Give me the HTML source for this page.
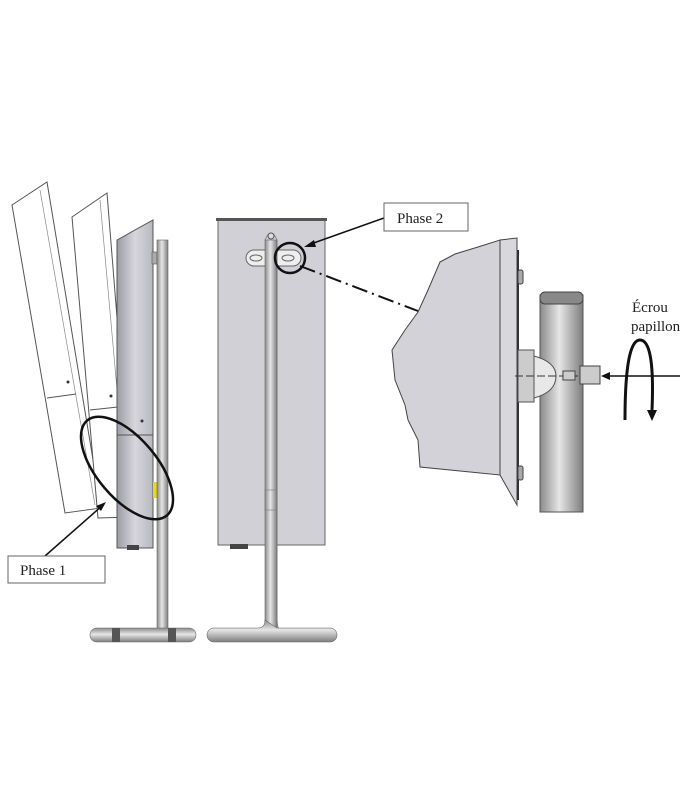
<!DOCTYPE html>
<html><head><meta charset="utf-8"><style>
html,body{margin:0;padding:0;background:#fff;width:700px;height:800px;overflow:hidden}
svg{display:block}
text{font-family:"Liberation Serif",serif;fill:#222}
</style></head><body>
<svg width="700" height="800" viewBox="0 0 700 800" xmlns="http://www.w3.org/2000/svg">
<defs>
<linearGradient id="pole" x1="0" x2="1"><stop offset="0" stop-color="#8a8a8a"/><stop offset=".45" stop-color="#e6e6e6"/><stop offset="1" stop-color="#7d7d7d"/></linearGradient>
<linearGradient id="poleh" x1="0" x2="0" y1="0" y2="1"><stop offset="0" stop-color="#8a8a8a"/><stop offset=".45" stop-color="#e6e6e6"/><stop offset="1" stop-color="#7d7d7d"/></linearGradient>
<linearGradient id="side" x1="0" x2="1"><stop offset="0" stop-color="#9c9ca4"/><stop offset=".5" stop-color="#d6d6dc"/><stop offset="1" stop-color="#b8b8c0"/></linearGradient>
</defs>
<!-- ghost panels -->
<polygon points="12,205 47,182 101,508 65,513" fill="#fff" stroke="#555" stroke-width="1"/>
<line x1="40" y1="190" x2="95" y2="505" stroke="#888" stroke-width="0.7"/>
<line x1="47" y1="398" x2="76" y2="394" stroke="#555"/>
<polygon points="72,217 107,193 133,517 98,518" fill="#fff" stroke="#555" stroke-width="1"/>
<line x1="100" y1="200" x2="128" y2="512" stroke="#888" stroke-width="0.7"/>
<line x1="90" y1="410" x2="118" y2="407" stroke="#555"/>
<circle cx="68" cy="382" r="1.5" fill="#333"/><circle cx="111" cy="396" r="1.5" fill="#333"/>
<!-- side panel -->
<polygon points="117,240 153,220 153,548 117,548" fill="url(#side)" stroke="#555"/>
<line x1="117" y1="435" x2="153" y2="435" stroke="#555"/>
<rect x="152" y="252" width="5" height="12" fill="#aaa" stroke="#555" stroke-width=".6"/>
<rect x="153" y="482" width="5" height="16" fill="#e8d820"/>
<circle cx="142" cy="421" r="1.5" fill="#333"/>
<rect x="127" y="545" width="12" height="5" fill="#444"/>
<!-- left pole and base -->
<rect x="157" y="240" width="11" height="392" fill="url(#pole)" stroke="#666" stroke-width=".6"/>
<rect x="90" y="628" width="106" height="14" rx="7" fill="url(#poleh)" stroke="#666" stroke-width=".6"/>
<rect x="112" y="628" width="8" height="14" fill="#555"/><rect x="168" y="628" width="8" height="14" fill="#555"/>
<!-- Phase 1 -->
<ellipse cx="127" cy="468" rx="62" ry="30" transform="rotate(50 127 468)" fill="none" stroke="#111" stroke-width="2.5"/>
<line x1="45" y1="556" x2="103" y2="505" stroke="#111" stroke-width="1.5"/>
<polygon points="106,502 96,506 101,511" fill="#111"/>
<rect x="8" y="556" width="97" height="27" fill="#fff" stroke="#666"/>
<text x="20" y="575" font-size="15">Phase 1</text>
<!-- front view -->
<rect x="218" y="219" width="107" height="326" fill="#d0d0d6" stroke="#666"/>
<rect x="216" y="218" width="111" height="3" fill="#555"/>
<rect x="230" y="544" width="18" height="5" fill="#444"/>
<rect x="246" y="250" width="55" height="16" rx="8" fill="#eee" stroke="#666"/>
<ellipse cx="256" cy="258" rx="6" ry="3" fill="none" stroke="#666"/>
<ellipse cx="288" cy="258" rx="6" ry="3" fill="none" stroke="#666"/>
<path d="M265,240 Q271,226 277,240 L277,620 Q277,636 292,636 L337,636" fill="none" stroke="#8a8a8a" stroke-width="1"/>
<rect x="265" y="240" width="12" height="388" fill="url(#pole)" stroke="#666" stroke-width=".6"/>
<circle cx="271" cy="236" r="3" fill="#ddd" stroke="#555"/>
<path d="M265,620 Q265,628 258,628 L214,628 A7,7 0 0 0 214,642 L330,642 A7,7 0 0 0 330,628 L277,628 Z" fill="url(#poleh)" stroke="#666" stroke-width=".6"/>
<rect x="265" y="490" width="12" height="20" fill="none" stroke="#777" stroke-width=".6"/>
<circle cx="290" cy="258" r="15" fill="none" stroke="#111" stroke-width="2.5"/>
<!-- Phase 2 -->
<line x1="384" y1="218" x2="308" y2="245" stroke="#111" stroke-width="1.5"/>
<polygon points="304,247 314,240 316,247" fill="#111"/>
<rect x="384" y="203" width="84" height="28" fill="#fff" stroke="#666"/>
<text x="397" y="223" font-size="15">Phase 2</text>
<line x1="300" y1="266" x2="418" y2="311" stroke="#111" stroke-width="2" stroke-dasharray="16,5,2,5"/>
<!-- detail -->
<path d="M440,262 L455,254 L478,247 L500,240 L500,475 L420,467 L418,440 L408,420 L405,405 L395,380 L392,350 L405,330 L418,312 L428,290 Z" fill="#d2d2d8" stroke="#444"/>
<line x1="500" y1="240" x2="500" y2="475" stroke="#444"/>
<polygon points="500,240 517,238 517,505 500,475" fill="#d8d8dc" stroke="#444"/>
<line x1="518" y1="250" x2="518" y2="500" stroke="#333" stroke-width="2"/>
<rect x="518" y="270" width="5" height="14" rx="2" fill="#aaa" stroke="#444"/>
<rect x="518" y="466" width="5" height="14" rx="2" fill="#aaa" stroke="#444"/>
<rect x="540" y="295" width="43" height="217" fill="url(#pole)" stroke="#555"/>
<rect x="540" y="292" width="43" height="12" rx="5" fill="#888" stroke="#444"/>
<rect x="518" y="350" width="16" height="52" fill="#ccc" stroke="#555"/>
<path d="M534,356 Q556,362 556,376 Q556,392 534,398 Z" fill="#e8e8e8" stroke="#555"/>
<line x1="515" y1="376" x2="600" y2="376" stroke="#333" stroke-width="1" stroke-dasharray="8,3"/>
<rect x="563" y="371" width="12" height="9" fill="#ccc" stroke="#444"/>
<rect x="580" y="366" width="20" height="18" fill="#ccc" stroke="#444"/>
<line x1="680" y1="376" x2="606" y2="376" stroke="#111" stroke-width="1.5"/>
<polygon points="601,376 610,372 610,380" fill="#111"/>
<path d="M625,420 Q625,340 640,340 Q655,340 652,410" fill="none" stroke="#111" stroke-width="3"/>
<polygon points="647,410 657,410 652,421" fill="#111"/>
<text x="632" y="312" font-size="15">Écrou</text>
<text x="631" y="331" font-size="15">papillon</text>
</svg>
</body></html>
